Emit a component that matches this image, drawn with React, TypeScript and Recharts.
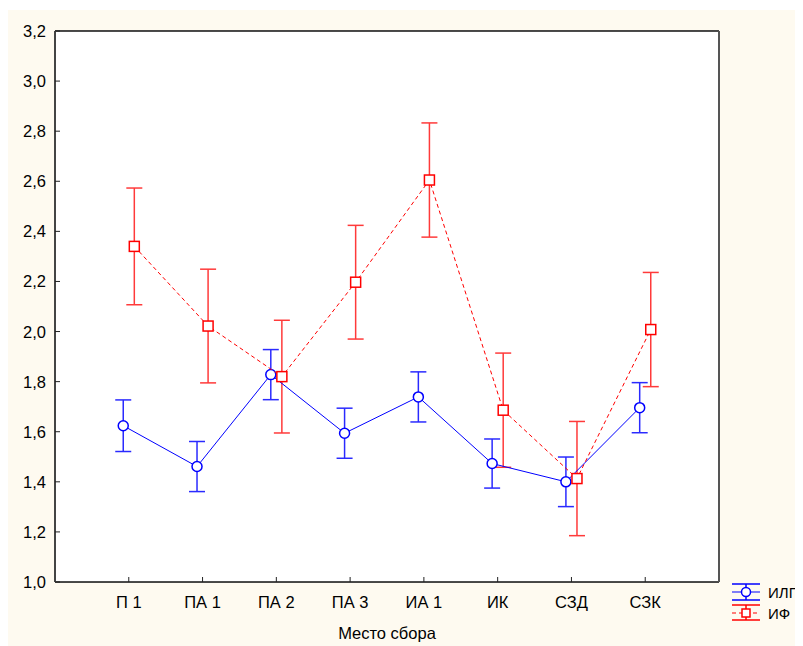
import React from 'react';
import { ComposedChart, Scatter, ErrorBar, XAxis, YAxis, CartesianGrid } from 'recharts';

// места сбора
const categories = ['П 1', 'ПА 1', 'ПА 2', 'ПА 3', 'ИА 1', 'ИК', 'СЗД', 'СЗК'];

// ИЛП: среднее и полуширина интервала
const ilpMean = [1.624, 1.461, 1.828, 1.594, 1.739, 1.473, 1.4, 1.696];
const ilpErr = [0.103, 0.1, 0.1, 0.1, 0.1, 0.098, 0.099, 0.1];

// ИФ
const ifMean = [2.34, 2.022, 1.82, 2.197, 2.605, 1.686, 1.413, 2.008];
const ifErr = [0.233, 0.227, 0.225, 0.227, 0.228, 0.228, 0.228, 0.228];

const yTicks = [1.0, 1.2, 1.4, 1.6, 1.8, 2.0, 2.2, 2.4, 2.6, 2.8, 3.0, 3.2];

const SHIFT = 0.075;
const FONT = '"Liberation Sans", Arial, sans-serif';
const FS = 16.5;
const xTicks = categories.map((_, i) => i + 1);

const ilpData = ilpMean.map((v, i) => ({ x: i + 1 - SHIFT, y: v, err: ilpErr[i] }));
const ifData = ifMean.map((v, i) => ({ x: i + 1 + SHIFT, y: v, err: ifErr[i] }));

const fmt = (v: number) => v.toFixed(1).replace('.', ',');

const BottomTick = (p: any) => (
  <g>
    <line x1={p.x} y1={p.y} x2={p.x} y2={p.y - 5} stroke="#222" />
    <text x={p.x} y={p.y + 26} textAnchor="middle" fontSize={FS} fontFamily={FONT} fill="#000">
      {categories[p.payload.value - 1]}
    </text>
  </g>
);

const TopTick = (p: any) => (
  <line x1={p.x} y1={p.y} x2={p.x} y2={p.y + 5} stroke="#222" />
);

const LeftTick = (p: any) => (
  <g>
    <line x1={p.x} y1={p.y} x2={p.x + 5} y2={p.y} stroke="#222" />
    <text x={p.x - 9} y={p.y + 6} textAnchor="end" fontSize={FS} fontFamily={FONT} fill="#000">
      {fmt(p.payload.value)}
    </text>
  </g>
);

const RightTick = (p: any) => (
  <line x1={p.x} y1={p.y} x2={p.x - 5} y2={p.y} stroke="#222" />
);

const Circle = (p: any) => (
  <circle cx={p.cx} cy={p.cy} r={5} fill="#fff" stroke="#0000ff" strokeWidth={1.5} />
);

const Square = (p: any) => (
  <rect x={p.cx - 5} y={p.cy - 5} width={10} height={10} fill="#fff" stroke="#ff0000" strokeWidth={1.5} />
);

function LegendBox() {
  return (
    <svg width={73} height={56} style={{ position: 'absolute', left: 722, top: 568 }}>
      <g>
        <line x1={2} y1={6} x2={30} y2={6} stroke="#0000ff" strokeWidth={1.5} />
        <line x1={2} y1={22} x2={30} y2={22} stroke="#0000ff" strokeWidth={1.5} />
        <line x1={2} y1={14} x2={30} y2={14} stroke="#0000ff" strokeWidth={1} />
        <line x1={16} y1={6} x2={16} y2={22} stroke="#0000ff" strokeWidth={1.5} />
        <circle cx={16} cy={14} r={4.5} fill="#fff" stroke="#0000ff" strokeWidth={1.5} />
        <text x={38} y={20} fontSize={15} fontFamily={FONT}>ИЛП</text>
      </g>
      <g>
        <line x1={2} y1={27} x2={30} y2={27} stroke="#ff0000" strokeWidth={1.5} />
        <line x1={2} y1={42} x2={30} y2={42} stroke="#ff0000" strokeWidth={1.5} />
        <line x1={2} y1={35} x2={30} y2={35} stroke="#ff0000" strokeWidth={1} strokeDasharray="4 3" />
        <line x1={16} y1={27} x2={16} y2={42} stroke="#ff0000" strokeWidth={1.5} />
        <rect x={12} y={31} width={8} height={8} fill="#fff" stroke="#ff0000" strokeWidth={1.5} />
        <text x={38} y={41} fontSize={15} fontFamily={FONT}>ИФ</text>
      </g>
    </svg>
  );
}

export default function App() {
  return (
    <div style={{ position: 'relative', width: 795, height: 636, marginTop: 2, background: '#fefaf0' }}>
      <ComposedChart width={795} height={636} margin={{ top: 11, right: 74, left: 7, bottom: 4 }}>
        <rect x={47} y={21} width={664} height={551} fill="#fff" />
        <CartesianGrid stroke="#d6d6d6" strokeWidth={1.2} />
        <XAxis
          type="number"
          dataKey="x"
          domain={[0, 9]}
          ticks={xTicks}
          interval={0}
          height={60}
          tickSize={0}
          tickMargin={0}
          tick={<BottomTick />}
          tickLine={false}
          axisLine={{ stroke: '#111', strokeWidth: 1.5 }}
          label={{ value: 'Место сбора', position: 'insideBottom', offset: 3, fontSize: FS, fontFamily: FONT, fill: '#000' }}
        />
        <XAxis
          xAxisId="top"
          orientation="top"
          type="number"
          domain={[0, 9]}
          ticks={xTicks}
          interval={0}
          height={10}
          tickSize={0}
          tickMargin={0}
          tick={<TopTick />}
          tickLine={false}
          axisLine={{ stroke: '#111', strokeWidth: 1.5 }}
        />
        <YAxis
          type="number"
          domain={[1, 3.2]}
          ticks={yTicks}
          interval={0}
          width={40}
          tickSize={0}
          tickMargin={0}
          tick={<LeftTick />}
          tickLine={false}
          axisLine={{ stroke: '#444', strokeWidth: 2 }}
        />
        <YAxis
          yAxisId="right"
          orientation="right"
          type="number"
          domain={[1, 3.2]}
          ticks={yTicks}
          interval={0}
          width={10}
          tickSize={0}
          tickMargin={0}
          tick={<RightTick />}
          tickLine={false}
          axisLine={{ stroke: '#555', strokeWidth: 2 }}
        />
        <Scatter
          name="ИЛП"
          data={ilpData}
          dataKey="y"
          line={{ stroke: '#0000ff', strokeWidth: 1 }}
          lineType="joint"
          shape={<Circle />}
          isAnimationActive={false}
        >
          <ErrorBar dataKey="err" direction="y" width={8} stroke="#2a2aff" strokeWidth={1.5} isAnimationActive={false} />
        </Scatter>
        <Scatter
          name="ИФ"
          data={ifData}
          dataKey="y"
          line={{ stroke: '#ff0000', strokeWidth: 1, strokeDasharray: '4 3' }}
          lineType="joint"
          shape={<Square />}
          isAnimationActive={false}
        >
          <ErrorBar dataKey="err" direction="y" width={8} stroke="#ff3a3a" strokeWidth={1.5} isAnimationActive={false} />
        </Scatter>
      </ComposedChart>
      <LegendBox />
    </div>
  );
}
